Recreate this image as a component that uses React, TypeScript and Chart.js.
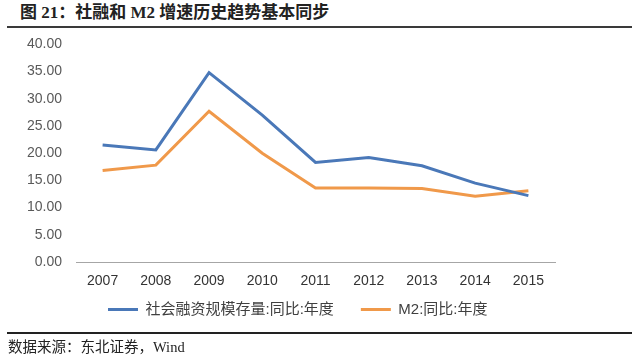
import React, { useEffect, useRef } from "react";
import { Chart, registerables } from "chart.js";

Chart.register(...registerables);

const years = ["2007", "2008", "2009", "2010", "2011", "2012", "2013", "2014", "2015"];
const tsfGrowth = [21.5, 20.6, 34.8, 27.0, 18.3, 19.2, 17.7, 14.5, 12.2];
const m2Growth = [16.8, 17.8, 27.7, 20.0, 13.6, 13.6, 13.5, 12.1, 13.1];
const seriesNames = ["社会融资规模存量:同比:年度", "M2:同比:年度"];
const yMin = 0;
const yMax = 40;
const yStep = 5;

const titleText = "图 21：社融和 M2 增速历史趋势基本同步";
const sourceText = "数据来源：东北证券，Wind";

const BLUE = "#4A78B8";
const ORANGE = "#F0994A";
const SANS = "'Liberation Sans', 'Noto Sans CJK SC', sans-serif";
const SERIF = "'Liberation Serif', 'Noto Sans CJK SC', serif";

// nudges the legend block into the place it holds in the reference
const legendNudge = {
  id: "legendNudge",
  afterLayout(chart: any) {
    const lg = chart.legend;
    if (!lg) return;
    const dx = 5;
    const dy = -19;
    lg.left += dx;
    lg.right += dx;
    lg.top += dy;
    lg.bottom += dy;
  },
};

export default function App() {
  const canvasRef = useRef<HTMLCanvasElement | null>(null);

  useEffect(() => {
    const canvas = canvasRef.current;
    if (!canvas) return;
    const chart = new Chart(canvas, {
      type: "line",
      data: {
        labels: years,
        datasets: [
          {
            label: seriesNames[0],
            data: tsfGrowth,
            borderColor: BLUE,
            backgroundColor: BLUE,
            borderWidth: 3,
            pointRadius: 0,
            tension: 0,
          },
          {
            label: seriesNames[1],
            data: m2Growth,
            borderColor: ORANGE,
            backgroundColor: ORANGE,
            borderWidth: 3,
            pointRadius: 0,
            tension: 0,
          },
        ],
      },
      plugins: [legendNudge],
      options: {
        responsive: false,
        animation: false,
        devicePixelRatio: 1,
        layout: { padding: { left: 0, right: 85, top: 4, bottom: 0 } },
        plugins: {
          tooltip: { enabled: false },
          legend: {
            position: "bottom",
            align: "start",
            fullSize: false,
            labels: {
              usePointStyle: true,
              pointStyle: "line",
              pointStyleWidth: 30,
              padding: 27,
              color: "#404040",
              font: { family: SANS, size: 15 },
            },
          },
        },
        scales: {
          x: {
            offset: true,
            grid: { display: false, drawTicks: false, offset: true },
            border: { display: true, color: "#A6A6A6", width: 1 },
            ticks: {
              color: "#333333",
              font: { family: SANS, size: 14 },
              padding: 11,
              maxRotation: 0,
            },
            afterFit: (s: any) => {
              s.height = 32;
            },
          },
          y: {
            min: yMin,
            max: yMax,
            grid: { display: false, drawTicks: false },
            border: { display: false },
            ticks: {
              stepSize: yStep,
              color: "#595959",
              font: { family: SANS, size: 14 },
              padding: 14,
              callback: (v: any) => Number(v).toFixed(2),
            },
            afterFit: (s: any) => {
              s.width = 76;
            },
          },
        },
      },
    });
    return () => chart.destroy();
  }, []);

  return (
    <div
      style={{
        position: "absolute",
        left: 0,
        top: 0,
        width: 640,
        height: 357,
        background: "#ffffff",
        overflow: "hidden",
      }}
    >
      <div
        style={{
          position: "absolute",
          left: 20,
          top: 3,
          fontFamily: SERIF,
          fontWeight: "bold",
          fontSize: 17,
          lineHeight: "20px",
          color: "#222",
          whiteSpace: "nowrap",
        }}
      >
        {titleText}
      </div>
      <div
        style={{
          position: "absolute",
          left: 7,
          top: 26,
          width: 625,
          height: 2,
          background: "#3a3a3a",
        }}
      />
      <canvas
        ref={canvasRef}
        width={640}
        height={324}
        style={{ position: "absolute", left: 0, top: 22, width: 640, height: 324 }}
      />
      <div
        style={{
          position: "absolute",
          left: 7,
          top: 332,
          width: 625,
          height: 2,
          background: "#222",
        }}
      />
      <div
        style={{
          position: "absolute",
          left: 8,
          top: 338,
          fontFamily: SERIF,
          fontSize: 14.5,
          lineHeight: "18px",
          color: "#222",
          whiteSpace: "nowrap",
        }}
      >
        {sourceText}
      </div>
    </div>
  );
}
